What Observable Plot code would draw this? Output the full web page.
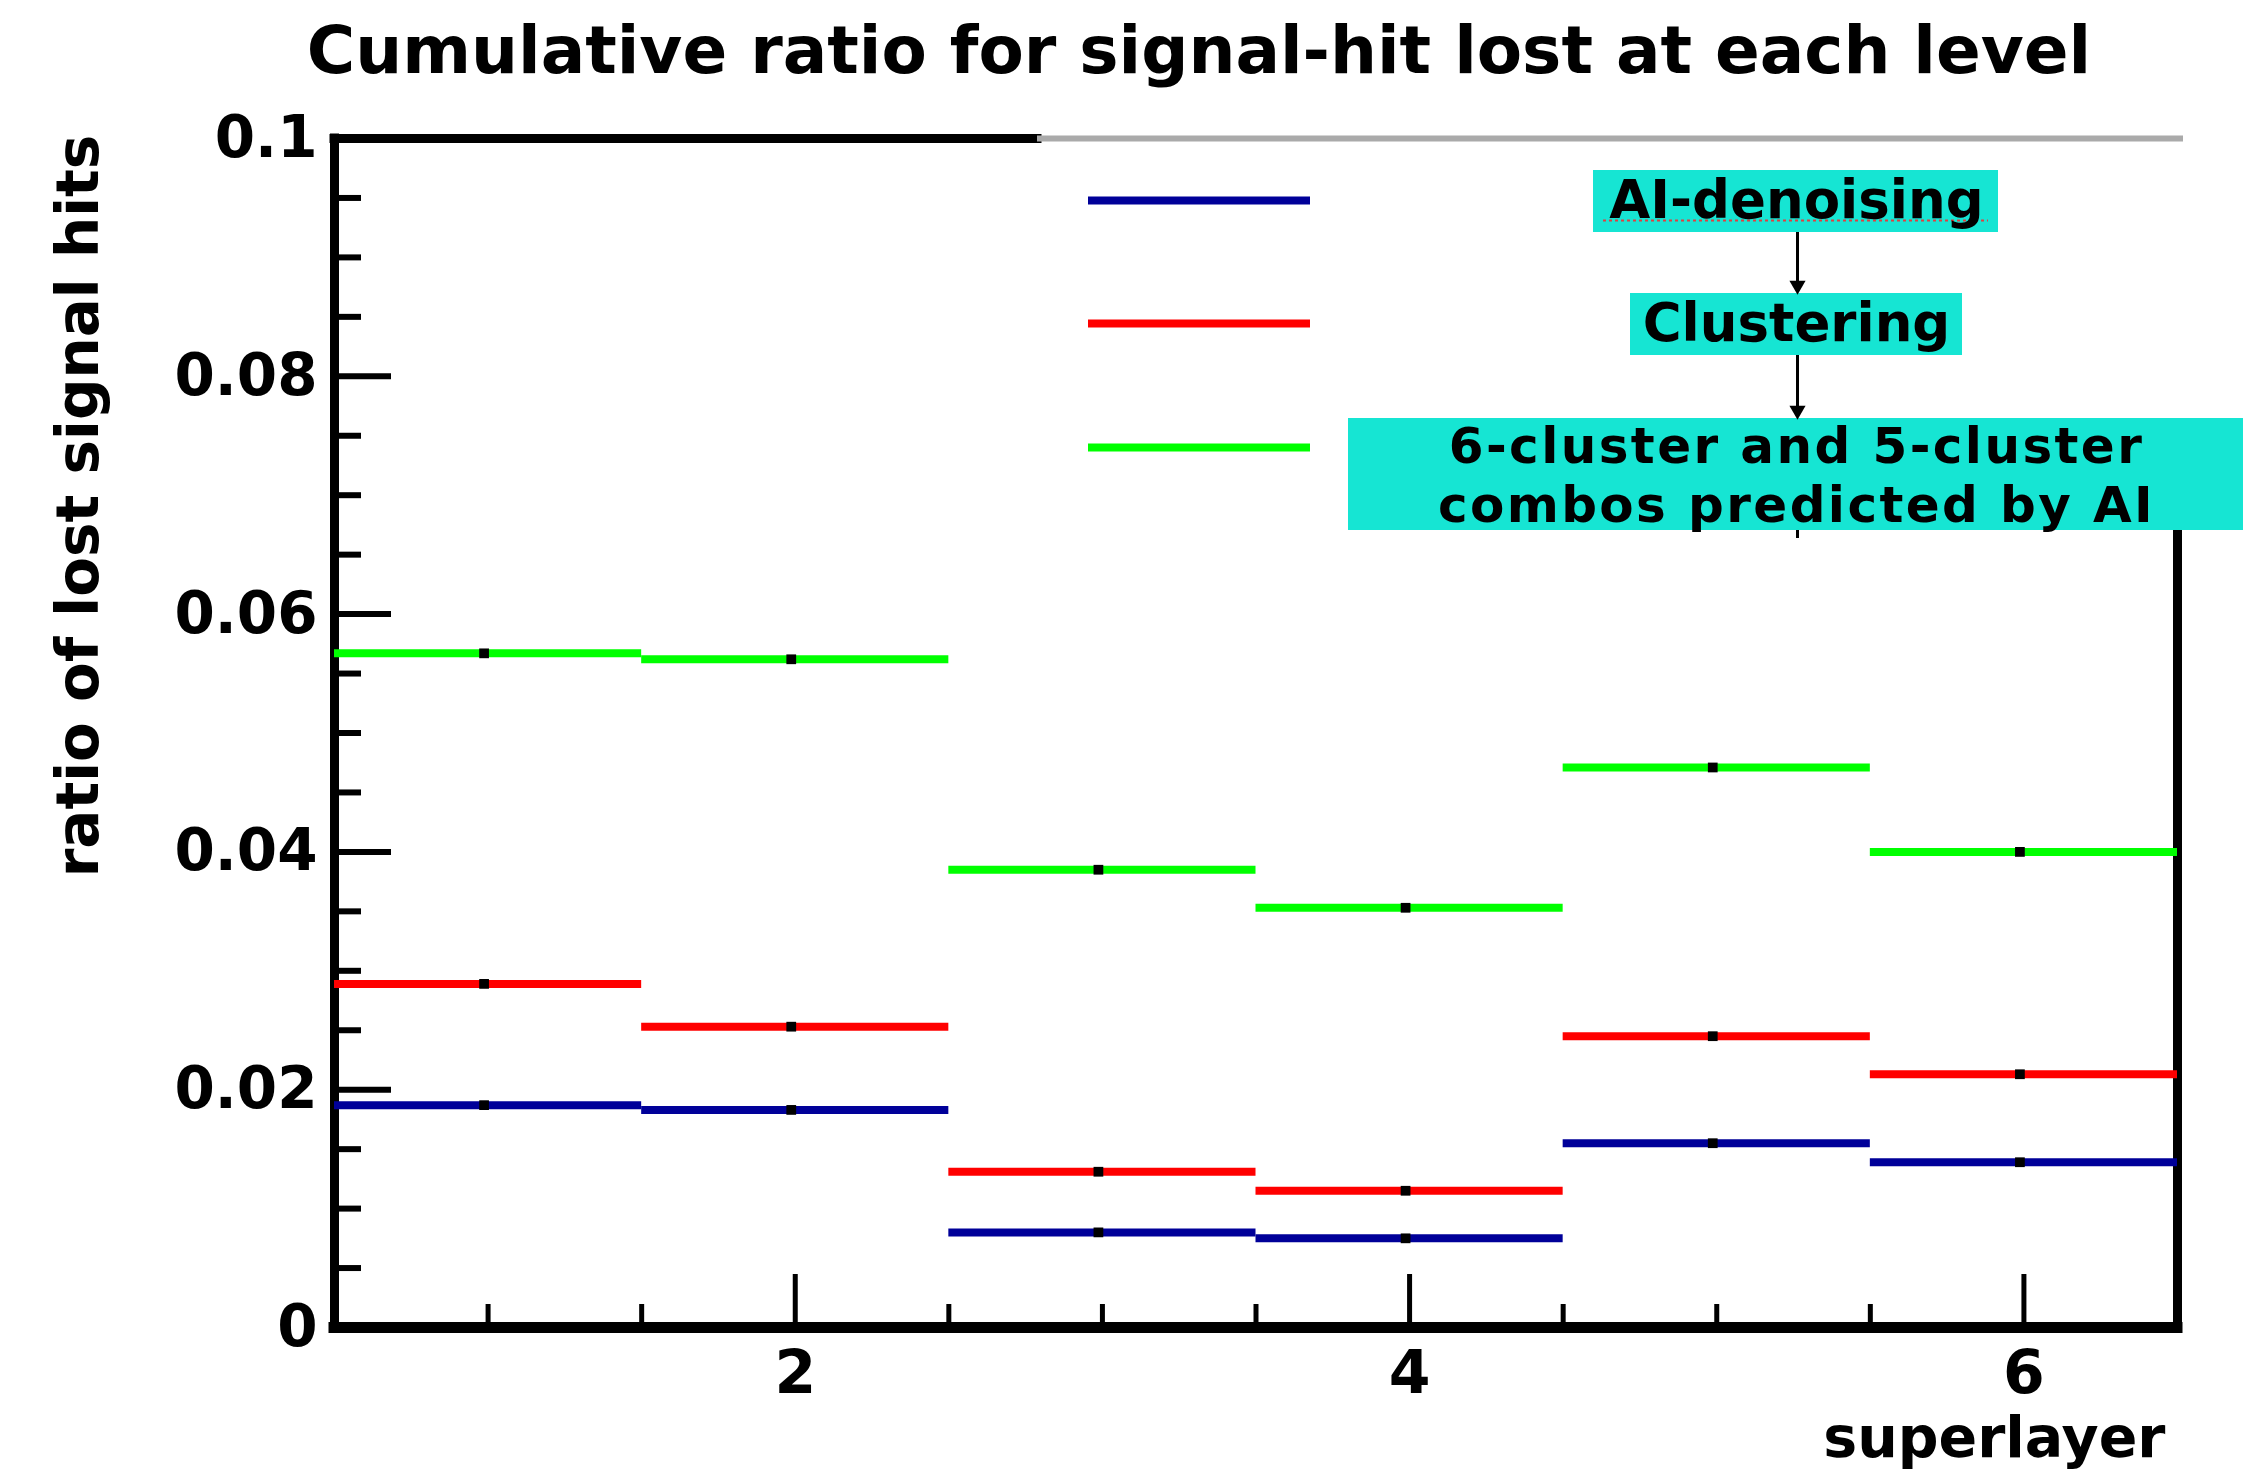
<!DOCTYPE html>
<html><head><meta charset="utf-8">
<script src="https://cdn.jsdelivr.net/npm/d3@7"></script>
<script src="https://cdn.jsdelivr.net/npm/@observablehq/plot@0.6"></script>
<style>html,body{margin:0;padding:0;background:#fff;} .box3text text{letter-spacing:2.4px;}</style>
</head><body><div id="chart"></div>
<script>
// ---- data ----
const bins = [1, 2, 3, 4, 5, 6];
const seriesNames = ["AI-denoising", "Clustering", "6-cluster and 5-cluster combos predicted by AI"];
const denoising  = [0.0187, 0.0183, 0.0080, 0.0075, 0.0155, 0.0139];
const clustering = [0.0289, 0.0253, 0.0131, 0.0115, 0.0245, 0.0213];
const combos     = [0.0567, 0.0562, 0.0385, 0.0353, 0.0471, 0.0400];
const seriesColors = ["#000099", "#ff0000", "#00ff00"];
const xMajorTicks = [2, 4, 6];
const xTickLabels = ["2", "4", "6"];
const xMinorTicks = [1, 1.5, 2.5, 3, 3.5, 4.5, 5, 5.5];
const yMajorTicks = [0, 0.02, 0.04, 0.06, 0.08, 0.1];
const yTickLabels = ["0", "0.02", "0.04", "0.06", "0.08", "0.1"];
const yMinorTicks = [0.005, 0.01, 0.015, 0.025, 0.03, 0.035, 0.045, 0.05, 0.055, 0.065, 0.07, 0.075, 0.085, 0.09, 0.095];
const boxTextLines = ["AI-denoising", "Clustering"];
const box3TextLines = ["6-cluster and 5-cluster", "combos predicted by AI"];
const titleText = "Cumulative ratio for signal-hit lost at each level";
const yLabelText = "ratio of lost signal hits";
const xLabelText = "superlayer";

const seriesValues = [denoising, clustering, combos];
const rows = seriesValues.flatMap((vals, s) => bins.map((b, i) => ({bin: b, value: vals[i], series: seriesNames[s]})));

// ---- layout (pixels) ----
const W = 2259, H = 1473, mL = 334, mR = 82, mT = 138, mB = 146;
const xDomain = [0.5, 6.5], yDomain = [0, 0.1];
const px2x = p => xDomain[0] + (p - mL) / (W - mL - mR) * (xDomain[1] - xDomain[0]);
const py2y = p => yDomain[0] + (H - mB - p) / (H - mT - mB) * (yDomain[1] - yDomain[0]);
const legendLeftPx = 1037, legendRightPx = 2183, legendBottomPx = 533;
const legendLineX = [1088, 1310];
const legendLineY = [200, 323, 447];
const boxLayout = [
  {x1: 1593, x2: 1998, y1: 170, y2: 232},
  {x1: 1630, x2: 1962, y1: 293, y2: 355},
  {x1: 1348, x2: 2243, y1: 418, y2: 530}
];
const textLayout = [{x: 1796, y: 201}, {x: 1796, y: 324}];
const box3TextLayout = [{x: 1796, y: 446}, {x: 1796, y: 505}];
const arrowLayout = [
  {x: 1797, y1: 232, tip: 293},
  {x: 1797, y1: 355, tip: 418}
];
const boxTexts = textLayout.map((t, i) => ({...t, label: boxTextLines[i]}));
const box3Texts = box3TextLayout.map((t, i) => ({...t, label: box3TextLines[i]}));
const legendRows = seriesNames.map((s, i) => ({series: s, py: legendLineY[i]}));

const chart = Plot.plot({
  width: W, height: H,
  marginLeft: mL, marginRight: mR, marginTop: mT, marginBottom: mB,
  style: {fontFamily: "DejaVu Sans", fontWeight: "bold", background: "white", color: "black", overflow: "visible"},
  x: {domain: xDomain, axis: null},
  y: {domain: yDomain, axis: null},
  color: {domain: seriesNames, range: seriesColors},
  marks: [
    // ticks
    Plot.axisY({ticks: yMinorTicks, tickSize: -27, strokeWidth: 6, tickFormat: () => "", label: null}),
    Plot.axisY({ticks: yMajorTicks, tickSize: -57, strokeWidth: 6, tickFormat: () => "", label: null}),
    Plot.axisY({ticks: yMajorTicks, tickSize: 0, tickPadding: 17, fontSize: 58, tickFormat: (d, i) => yTickLabels[i], label: null}),
    Plot.axisX({ticks: xMinorTicks, tickSize: -23, strokeWidth: 5, tickFormat: () => "", label: null}),
    Plot.axisX({ticks: xMajorTicks, tickSize: -53, strokeWidth: 5, tickFormat: () => "", label: null}),
    Plot.axisX({ticks: xMajorTicks, tickSize: 0, tickPadding: 23, fontSize: 60, tickFormat: (d, i) => xTickLabels[i], label: null}),
    // frame
    Plot.ruleX([xDomain[0]], {y1: yDomain[0], y2: yDomain[1], strokeWidth: 9, strokeLinecap: "square"}),
    Plot.ruleY([yDomain[0]], {x1: xDomain[0], x2: xDomain[1], strokeWidth: 11, strokeLinecap: "square"}),
    Plot.ruleX([xDomain[1]], {y1: yDomain[0], y2: py2y(legendBottomPx), strokeWidth: 9, strokeLinecap: "square"}),
    Plot.ruleY([yDomain[1]], {x1: xDomain[0], x2: px2x(legendLeftPx), strokeWidth: 9, strokeLinecap: "square"}),
    Plot.ruleY([yDomain[1]], {x1: px2x(legendLeftPx), x2: px2x(legendRightPx), stroke: "#aaaaaa", strokeWidth: 6}),
    // histogram bins
    Plot.ruleY(rows, {y: "value", x1: d => d.bin - 0.5, x2: d => d.bin + 0.5, stroke: "series", strokeWidth: 8}),
    Plot.dot(rows, {x: "bin", y: "value", symbol: "square", r: 5.5, fill: "black", dx: -4}),
    // legend lines
    Plot.ruleY(legendRows, {y: d => py2y(d.py), x1: px2x(legendLineX[0]), x2: px2x(legendLineX[1]), stroke: "series", strokeWidth: 8}),
    // flow boxes
    Plot.ruleX([px2x(1797)], {y1: py2y(528), y2: py2y(538), stroke: "black", strokeWidth: 3}),
    Plot.rect(boxLayout, {x1: d => px2x(d.x1), x2: d => px2x(d.x2), y1: d => py2y(d.y1), y2: d => py2y(d.y2), fill: "#16e5d3"}),
    Plot.ruleY([py2y(220)], {x1: px2x(1603), x2: px2x(1988), stroke: "#e04040", strokeWidth: 2, strokeDasharray: "3,3"}),
    Plot.text(boxTexts, {x: d => px2x(d.x), y: d => py2y(d.y), text: "label", fontSize: 53, fill: "black"}),
    Plot.text(box3Texts, {x: d => px2x(d.x), y: d => py2y(d.y), text: "label", fontSize: 50, fill: "black", className: "box3text"}),
    // flow arrows
    Plot.ruleX(arrowLayout, {x: d => px2x(d.x), y1: d => py2y(d.y1), y2: d => py2y(d.tip - 10), stroke: "black", strokeWidth: 3}),
    Plot.dot(arrowLayout, {x: d => px2x(d.x), y: d => py2y(d.tip - 8), symbol: "triangle", rotate: 180, r: 6, fill: "black"}),
    // titles
    Plot.text([titleText], {frameAnchor: "top", dx: -57, dy: -66, lineAnchor: "bottom", fontSize: 66, fill: "black"}),
    Plot.text([yLabelText], {frameAnchor: "left", rotate: -90, dx: -255, dy: -227, lineAnchor: "middle", textAnchor: "middle", fontSize: 58, fill: "black"}),
    Plot.text([xLabelText], {frameAnchor: "bottom-right", textAnchor: "end", lineAnchor: "bottom", dx: -12, dy: 129, fontSize: 57, fill: "black"})
  ]
});
document.getElementById("chart").appendChild(chart);
</script>
</body></html>
